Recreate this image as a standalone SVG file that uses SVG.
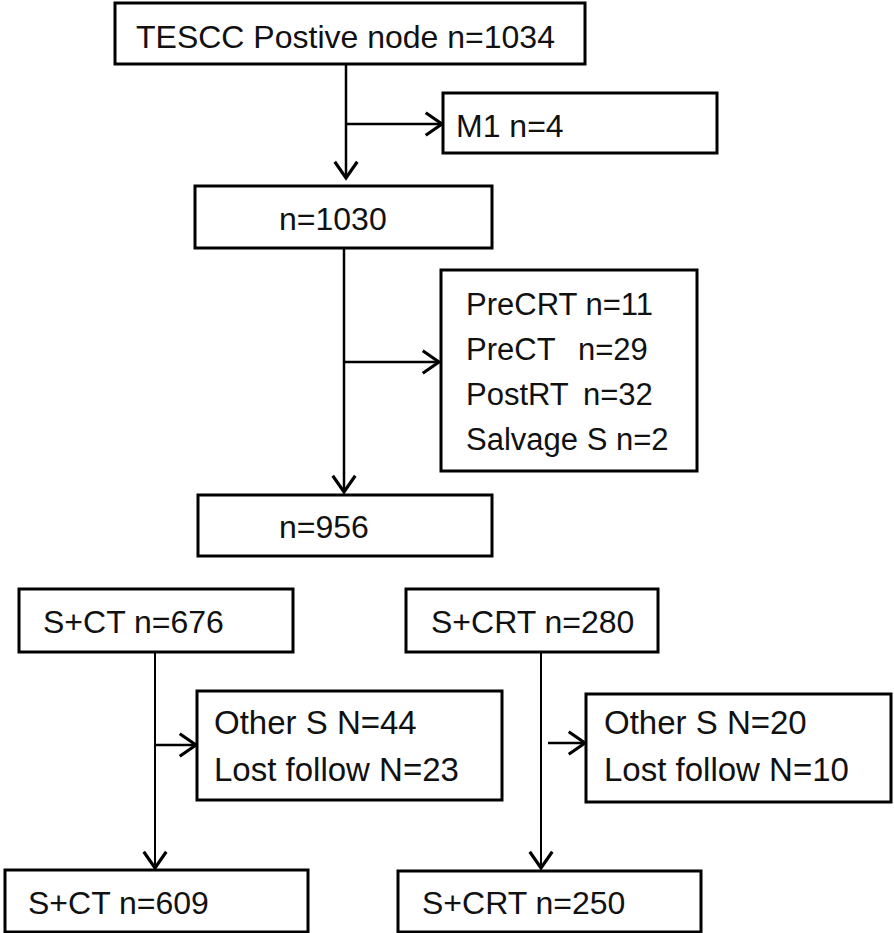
<svg xmlns="http://www.w3.org/2000/svg" width="894" height="933" viewBox="0 0 894 933">
<defs>
<marker id="arr" markerUnits="userSpaceOnUse" markerWidth="30" markerHeight="30" viewBox="-16 -12 20 24" refX="0" refY="0" orient="auto">
<path d="M-13,-9 L0,0 L-13,9" fill="none" stroke="#000" stroke-width="2.5"/>
</marker>
</defs>
<style>
.box{fill:#fff;stroke:#000;stroke-width:3}
.t{font-family:"Liberation Sans",Arial,sans-serif;font-size:32px;fill:#111}
.s{font-size:31px}
.b{font-size:33px}
.ln{fill:none;stroke:#000;stroke-width:2.5}
.ln2{fill:none;stroke:#000;stroke-width:2}
</style>
<rect width="894" height="933" fill="#fff"/>
<g id="connectors">
<path class="ln" d="M346,64 V178" marker-end="url(#arr)"/>
<path class="ln" d="M346,124 H442" marker-end="url(#arr)"/>
<path class="ln" d="M344,248 V492" marker-end="url(#arr)"/>
<path class="ln" d="M344,362 H439" marker-end="url(#arr)"/>
<path class="ln2" d="M155,652 V868" marker-end="url(#arr)"/>
<path class="ln" d="M155,745 H196" marker-end="url(#arr)"/>
<path class="ln2" d="M541,649 V868" marker-end="url(#arr)"/>
<path class="ln" d="M548,743 H585" marker-end="url(#arr)"/>
</g>
<g id="n_total">
<rect class="box" x="115" y="3" width="470" height="61"/>
<text class="t" x="136" y="48">TESCC Postive node n=1034</text>
</g>
<g id="n_m1">
<rect class="box" x="443" y="93" width="274" height="60"/>
<text class="t" x="456" y="137">M1 n=4</text>
</g>
<g id="n_1030">
<rect class="box" x="195" y="186" width="297" height="62"/>
<text class="t" x="279" y="230">n=1030</text>
</g>
<g id="n_excl">
<rect class="box" x="441" y="270" width="256" height="201"/>
<text class="t s" x="466" y="315">PreCRT n=11</text>
<text class="t s" x="466" y="360">PreCT</text>
<text class="t s" x="578" y="360">n=29</text>
<text class="t s" x="466" y="405">PostRT</text>
<text class="t s" x="583" y="405">n=32</text>
<text class="t s" x="466" y="450">Salvage S n=2</text>
</g>
<g id="n_956">
<rect class="box" x="198" y="495" width="294" height="61"/>
<text class="t" x="279" y="538">n=956</text>
</g>
<g id="n_sct676">
<rect class="box" x="19" y="589" width="274" height="63"/>
<text class="t" x="43" y="633">S+CT n=676</text>
</g>
<g id="n_scrt280">
<rect class="box" x="406" y="589" width="252" height="63"/>
<text class="t" x="431" y="633">S+CRT n=280</text>
</g>
<g id="n_excl_ct">
<rect class="box" x="197" y="691" width="305" height="109"/>
<text class="t b" x="214" y="734">Other S N=44</text>
<text class="t b" x="214" y="781">Lost follow N=23</text>
</g>
<g id="n_excl_crt">
<rect class="box" x="586" y="694" width="305" height="108"/>
<text class="t b" x="604" y="734">Other S N=20</text>
<text class="t b" x="604" y="781">Lost follow N=10</text>
</g>
<g id="n_sct609">
<rect class="box" x="5" y="870" width="303" height="62"/>
<text class="t" x="28" y="914">S+CT n=609</text>
</g>
<g id="n_scrt250">
<rect class="box" x="398" y="871" width="303" height="61"/>
<text class="t" x="422" y="914">S+CRT n=250</text>
</g>
</svg>
